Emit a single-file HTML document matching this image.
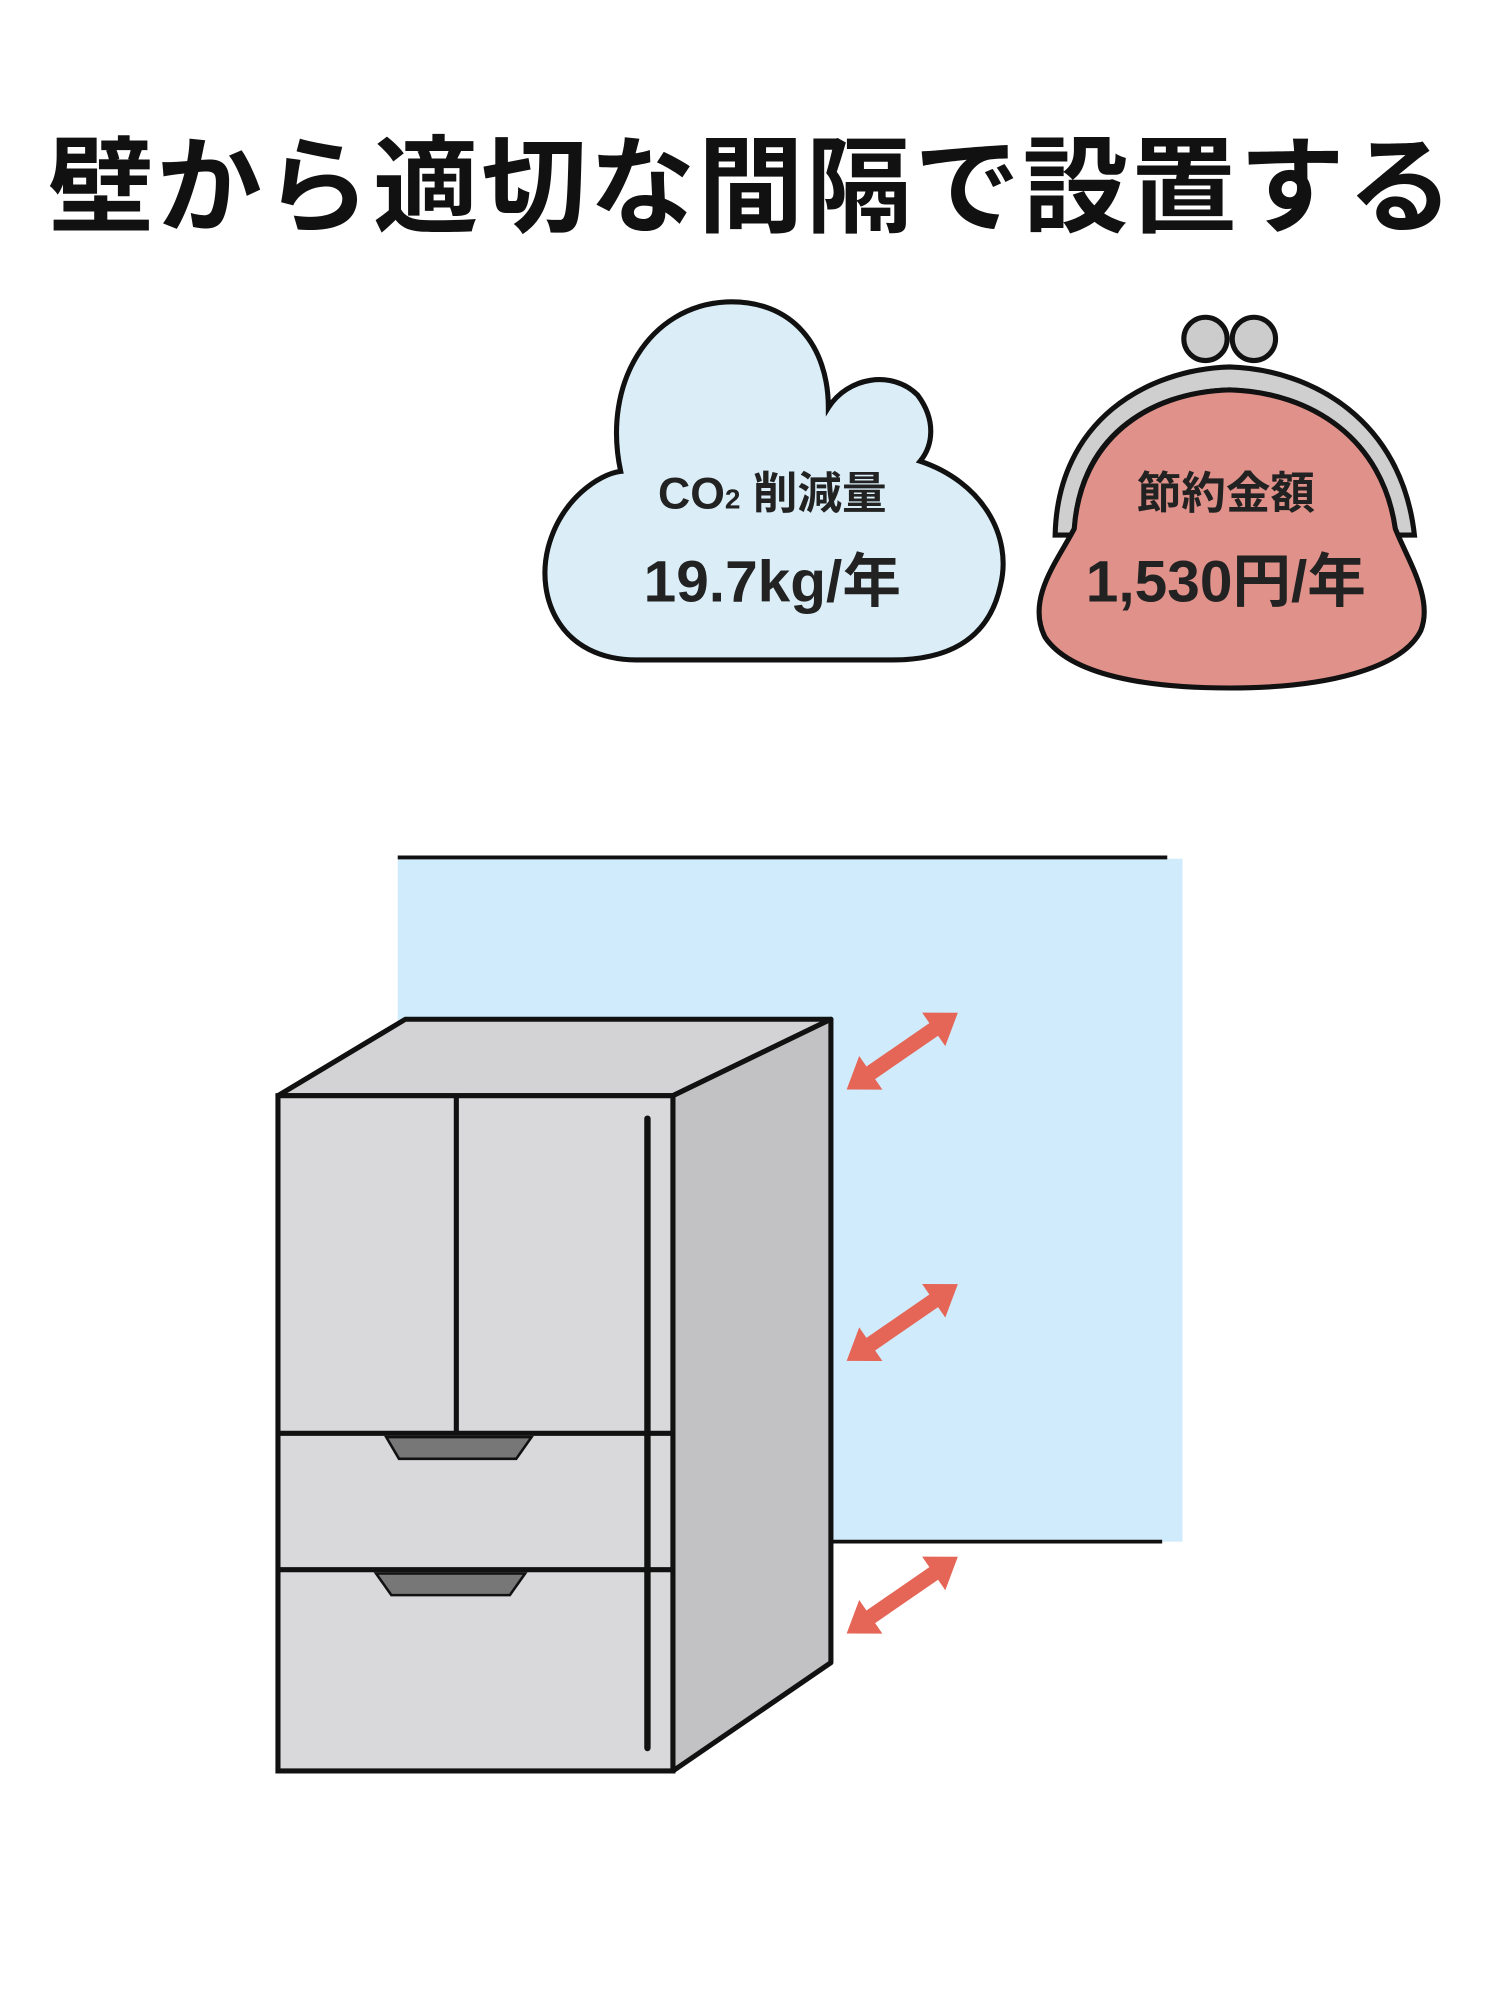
<!DOCTYPE html>
<html><head><meta charset="utf-8"><style>
html,body{margin:0;padding:0;background:#fff;}
svg{display:block;}
</style></head><body>
<svg width="1500" height="1999" viewBox="0 0 1177 1569" xmlns="http://www.w3.org/2000/svg">
<text x="590" y="176" text-anchor="middle" font-family="'Liberation Sans','Noto Sans CJK JP',sans-serif" font-weight="bold" font-size="83" letter-spacing="2" fill="#111">壁から適切な間隔で設置する</text>

<!-- cloud -->
<path d="M500,518 C440,518 420,470 430,430 C440,392 470,372 487,370 C472,300 510,240 570,237 C622,235 650,272 650,320 C665,296 700,290 720,310 C735,330 732,350 722,362 C770,378 795,420 785,460 C775,505 740,518 700,518 Z" fill="#dbeef8" stroke="#111" stroke-width="4"/>
<text x="606" y="399" text-anchor="middle" font-family="'Liberation Sans','Noto Sans CJK JP',sans-serif" font-weight="bold" font-size="35" fill="#222">CO<tspan font-size="22">2</tspan> 削減量</text>
<text x="606" y="472" text-anchor="middle" font-family="'Liberation Sans','Noto Sans CJK JP',sans-serif" font-weight="bold" font-size="46" fill="#222">19.7kg/年</text>

<!-- purse -->
<circle cx="946" cy="266" r="17" fill="#ccc" stroke="#111" stroke-width="4"/>
<circle cx="984" cy="266" r="17" fill="#ccc" stroke="#111" stroke-width="4"/>
<path d="M828,420 C830,330 900,290 965,288 C1030,290 1100,330 1110,420 L1095,420 C1085,345 1030,308 965,306 C900,308 845,345 843,420 Z" fill="#cfcfcf" stroke="#111" stroke-width="4"/>
<path d="M843,415 C830,440 805,470 820,500 C840,530 900,540 965,540 C1040,540 1100,525 1115,495 C1125,470 1105,440 1095,415 C1085,345 1030,308 965,306 C900,308 848,345 843,415 Z" fill="#e0918a" stroke="#111" stroke-width="4"/>
<text x="962" y="399" text-anchor="middle" font-family="'Liberation Sans','Noto Sans CJK JP',sans-serif" font-weight="bold" font-size="35" fill="#222">節約金額</text>
<text x="962" y="472" text-anchor="middle" font-family="'Liberation Sans','Noto Sans CJK JP',sans-serif" font-weight="bold" font-size="46" fill="#222">1,530円/年</text>

<!-- wall -->
<rect x="312" y="674" width="616" height="536" fill="#d0ebfb"/>
<line x1="312" y1="673" x2="916" y2="673" stroke="#111" stroke-width="3"/>
<line x1="652" y1="1210" x2="912" y2="1210" stroke="#111" stroke-width="3"/>

<!-- fridge -->
<polygon points="218,860 318,800 652,800 528,860" fill="#d3d3d5" stroke="#111" stroke-width="4" stroke-linejoin="round"/>
<polygon points="528,860 652,800 652,1305 528,1390" fill="#c2c2c4" stroke="#111" stroke-width="4" stroke-linejoin="round"/>
<rect x="218" y="860" width="310" height="530" fill="#d9d9db" stroke="#111" stroke-width="4"/>
<line x1="358" y1="860" x2="358" y2="1125" stroke="#111" stroke-width="4"/>
<line x1="218" y1="1125" x2="528" y2="1125" stroke="#111" stroke-width="4"/>
<line x1="218" y1="1232" x2="528" y2="1232" stroke="#111" stroke-width="4"/>
<line x1="508" y1="878" x2="508" y2="1372" stroke="#111" stroke-width="5" stroke-linecap="round"/>
<polygon points="303,1128 417,1128 405,1145 313,1145" fill="#777" stroke="#111" stroke-width="2"/>
<polygon points="295,1235 412,1235 400,1252 307,1252" fill="#777" stroke="#111" stroke-width="2"/>

<!-- arrows -->
<g fill="#e56556">
<g transform="translate(708,825) rotate(-34.6)">
<polygon points="-53,0 -30,-16 -30,-6 30,-6 30,-16 53,0 30,16 30,6 -30,6 -30,16"/>
</g>
<g transform="translate(708,1038) rotate(-34.6)">
<polygon points="-53,0 -30,-16 -30,-6 30,-6 30,-16 53,0 30,16 30,6 -30,6 -30,16"/>
</g>
<g transform="translate(708,1252) rotate(-34.6)">
<polygon points="-53,0 -30,-16 -30,-6 30,-6 30,-16 53,0 30,16 30,6 -30,6 -30,16"/>
</g>
</g>
</svg>
</body></html>
